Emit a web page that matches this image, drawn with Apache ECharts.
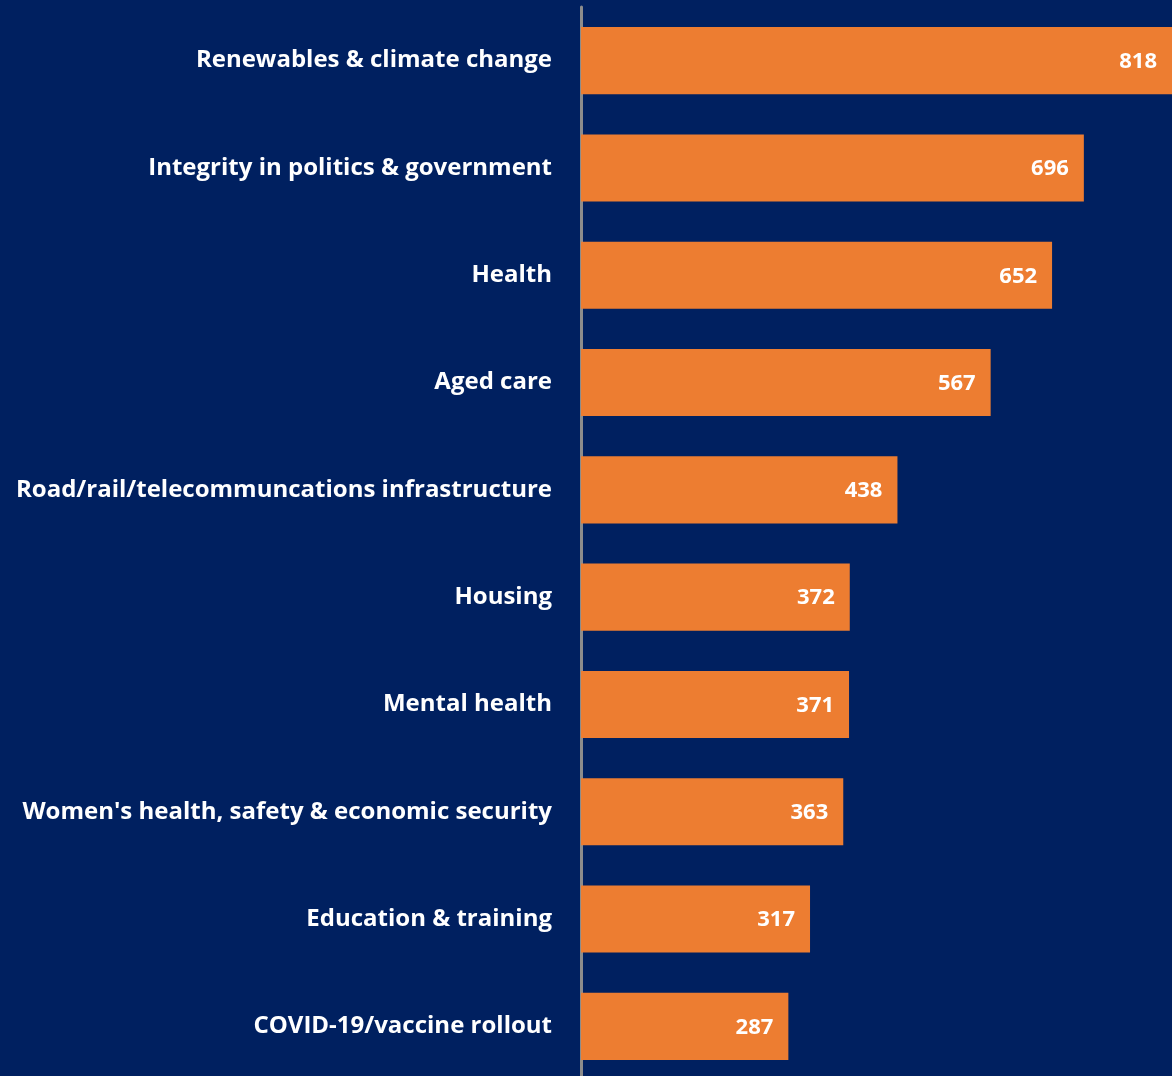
<!DOCTYPE html>
<html>
<head>
<meta charset="utf-8">
<script src="https://cdn.jsdelivr.net/npm/echarts@6/dist/echarts.min.js"></script>
<style>
  html, body { margin: 0; padding: 0; background: #002060; overflow: hidden; }
  #chart { width: 1172px; height: 1080px; }
</style>
</head>
<body>
<div id="chart"></div>
<script>
// Issues ranked by number of mentions
const categories = [
  'Renewables & climate change',
  'Integrity in politics & government',
  'Health',
  'Aged care',
  'Road/rail/telecommuncations infrastructure',
  'Housing',
  'Mental health',
  "Women's health, safety & economic security",
  'Education & training',
  'COVID-19/vaccine rollout'
];
const mentions = [818, 696, 652, 567, 438, 372, 371, 363, 317, 287];

const chart = echarts.init(document.getElementById('chart'), null, { renderer: 'canvas' });
chart.setOption({
  backgroundColor: '#002060',
  animation: false,
  grid: { left: 581, right: 0, top: 7, bottom: 0, containLabel: false },
  xAxis: {
    type: 'value', min: 0, max: 818,
    show: false
  },
  yAxis: {
    type: 'category',
    data: categories,
    inverse: true,
    axisLine: { show: true, lineStyle: { color: '#8c8c8c', width: 3 } },
    axisTick: { show: false },
    axisLabel: {
      color: '#ffffff',
      fontFamily: 'Open Sans',
      fontWeight: 'bold',
      fontSize: 24,
      margin: 29,
      padding: [4, 0, 0, 0]
    }
  },
  series: [{
    type: 'bar',
    data: mentions,
    barWidth: '62.5%',
    itemStyle: { color: '#ED7D31' },
    label: {
      show: true,
      position: 'insideRight',
      offset: [-10, 1],
      color: '#ffffff',
      fontFamily: 'Open Sans',
      fontWeight: 'bold',
      fontSize: 22
    }
  }]
});
</script>
</body>
</html>
